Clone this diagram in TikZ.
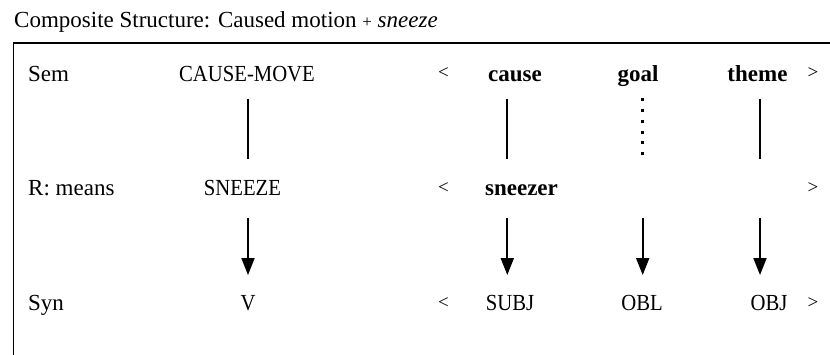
\documentclass[tikz,border=0pt]{standalone}
\usepackage{fontspec}
\setmainfont{Liberation Serif}[FakeStretch=1.0]
\newfontfamily\capsfont{Liberation Serif}[FakeStretch=0.9]
\usetikzlibrary{arrows.meta}
\begin{document}
\begin{tikzpicture}[x=1pt,y=-1pt,
  txt/.style={font=\fontsize{23}{27}\selectfont, inner sep=0pt, anchor=base},
  captxt/.style={txt, font=\fontsize{23}{27}\capsfont},
  lbl/.style={txt, anchor=base west},
  brk/.style={font=\fontsize{19}{21}\selectfont, inner sep=0pt, anchor=center},
  link/.style={line width=2pt},
  arr/.style={line width=2pt, -{Triangle[width=13pt,length=17pt]}},
  dotline/.style={line width=3pt, dash pattern=on 3pt off 7.9pt}]
\useasboundingbox (0,0) rectangle (830,354);
\clip (0,0) rectangle (830,354);
\node[lbl] (title) at (14,27) {Composite Structure: Caused motion {\fontsize{17}{17}\selectfont +} \textit{sneeze}};
\draw[line width=1.6pt] (13.5,42.7) rectangle (900,420);
% row labels
\node[lbl] (lsem) at (28,81) {Sem};
\node[lbl] (lr) at (28,195) {R: means};
\node[lbl] (lsyn) at (28,310.5) {Syn};
% row 1
\node[captxt] (cm) at (247,81) {CAUSE-MOVE};
\node[brk] (lt1) at (443.5,73.5) {<};
\node[txt] (cause) at (515,81) {\textbf{cause}};
\node[txt] (goal) at (638,81) {\textbf{goal}};
\node[txt] (theme) at (757.5,81) {\textbf{theme}};
\node[brk] (gt1) at (813,73.5) {>};
% row 2
\node[captxt] (sn) at (242.5,195) {SNEEZE};
\node[brk] (lt2) at (443.5,188) {<};
\node[txt] (snz) at (521.5,195) {\textbf{sneezer}};
\node[brk] (gt2) at (813,188) {>};
% row 3
\node[captxt] (v) at (248,310.5) {V};
\node[brk] (lt3) at (443.5,303.3) {<};
\node[captxt] (subj) at (510,310.5) {SUBJ};
\node[captxt] (obl) at (642,310.5) {OBL};
\node[captxt] (obj) at (769,310.5) {OBJ};
\node[brk] (gt3) at (813,303.3) {>};
% connector ends
\coordinate (a1) at (248,98.5);  \coordinate (b1) at (248,159.3);
\coordinate (a2) at (507.3,98.5); \coordinate (b2) at (507.3,159.3);
\coordinate (a3) at (642.7,97.8); \coordinate (b3) at (642.7,155.5);
\coordinate (a4) at (760,98.5);  \coordinate (b4) at (760,159.3);
\coordinate (c1) at (248,217.7);  \coordinate (d1) at (248,275);
\coordinate (c2) at (507.3,217.7); \coordinate (d2) at (507.3,275);
\coordinate (c3) at (642.7,217.7); \coordinate (d3) at (642.7,275);
\coordinate (c4) at (760,217.7);  \coordinate (d4) at (760,275);
\draw[link] (a1) -- (b1);
\draw[link] (a2) -- (b2);
\draw[dotline] (a3) -- (b3);
\draw[link] (a4) -- (b4);
\draw[arr] (c1) -- (d1);
\draw[arr] (c2) -- (d2);
\draw[arr] (c3) -- (d3);
\draw[arr] (c4) -- (d4);
\end{tikzpicture}
\end{document}
